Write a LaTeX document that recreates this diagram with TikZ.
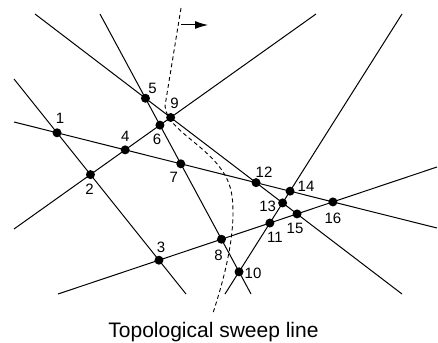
\documentclass[tikz,border=0pt]{standalone}
\usepackage{fontspec}
\setmainfont{Liberation Sans}
\usetikzlibrary{calc,arrows.meta}
\begin{document}
\begin{tikzpicture}[x=1pt,y=-1pt,
  ln/.style={line width=1pt},
  dot/.style={circle,fill=black,inner sep=0pt,minimum size=9pt},
  lbl/.style={inner sep=0pt,font=\fontsize{15}{17}\selectfont},
  sweep/.style={line width=0.9pt,dash pattern=on 4pt off 3pt}]
\useasboundingbox (0,0) rectangle (438,342);
% line end points
\coordinate (a1) at (35,14);  \coordinate (a2) at (402,294);
\coordinate (b1) at (100,14); \coordinate (b2) at (251,294);
\coordinate (c1) at (14,79);  \coordinate (c2) at (186,294);
\coordinate (d1) at (14,122); \coordinate (d2) at (437,228);
\coordinate (e1) at (14,229); \coordinate (e2) at (316,14);
\coordinate (f1) at (225,294);\coordinate (f2) at (402,14);
\coordinate (g1) at (58,294); \coordinate (g2) at (437,167);
\foreach \l in {a,b,c,d,e,f,g}{\draw[ln] (\l1) -- (\l2);}
% intersections
\coordinate (p1) at (intersection of c1--c2 and d1--d2);
\coordinate (p2) at (intersection of c1--c2 and e1--e2);
\coordinate (p3) at (intersection of c1--c2 and g1--g2);
\coordinate (p4) at (intersection of d1--d2 and e1--e2);
\coordinate (p5) at (intersection of a1--a2 and b1--b2);
\coordinate (p6) at (intersection of b1--b2 and e1--e2);
\coordinate (p7) at (intersection of b1--b2 and d1--d2);
\coordinate (p8) at (intersection of b1--b2 and g1--g2);
\coordinate (p9) at (intersection of a1--a2 and e1--e2);
\coordinate (p10) at (intersection of b1--b2 and f1--f2);
\coordinate (p11) at (intersection of f1--f2 and g1--g2);
\coordinate (p12) at (intersection of a1--a2 and d1--d2);
\coordinate (p13) at (intersection of a1--a2 and f1--f2);
\coordinate (p14) at (intersection of d1--d2 and f1--f2);
\coordinate (p15) at (intersection of a1--a2 and g1--g2);
\coordinate (p16) at (intersection of d1--d2 and g1--g2);
% sweep line
\coordinate (s0) at (181,8);
\coordinate (s1) at (165,106);
\coordinate (s2) at (232,196);
\coordinate (s3) at (213,313);
\draw[sweep] (s0) -- (s1) .. controls (167,135) and (226,150) .. (s2)
  .. controls (237,235) and (222,285) .. (s3);
\coordinate (ar0) at (181,25); \coordinate (ar1) at (208,25);
\draw[line width=1pt,-{Latex[length=13pt,width=8pt]}] (ar0) -- (ar1);
% dots and labels
\foreach \i/\dx/\dy in {1/3/-14,2/-1/15,3/2/-13,4/0/-14,5/7/-10,6/-3/14,7/-7/14,8/-3/16,
  9/4/-14,10/14/2,11/5/14,12/8/-10,13/-15/3,14/16/-5,15/-2/14,16/0/16}{
  \node[dot] (n\i) at (p\i) {};
  \node[lbl] (l\i) at ($(p\i)+(\dx,\dy)$) {\i};
}
\node[anchor=base,inner sep=0pt,font=\fontsize{21}{25}\selectfont] (title) at (213.5,337) {Topological sweep line};
\end{tikzpicture}
\end{document}
